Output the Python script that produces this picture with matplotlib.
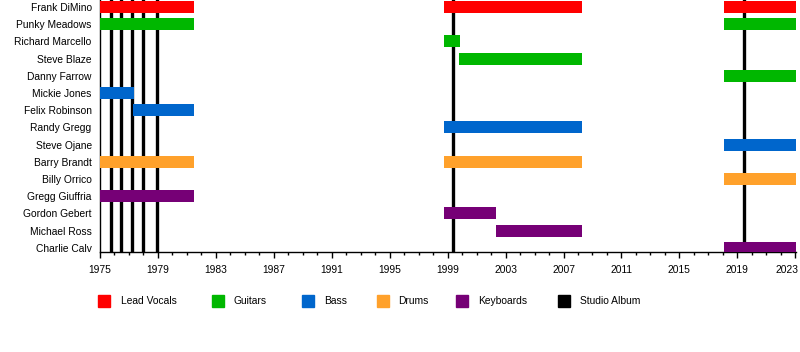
import matplotlib
matplotlib.use("Agg")
import matplotlib.pyplot as plt
from matplotlib.patches import Rectangle
from matplotlib.ticker import MultipleLocator, FixedLocator
import matplotlib.transforms as mtransforms

plt.rcParams['font.family'] = ['Liberation Sans', 'DejaVu Sans']

members = ["Frank DiMino", "Punky Meadows", "Richard Marcello", "Steve Blaze",
           "Danny Farrow", "Mickie Jones", "Felix Robinson", "Randy Gregg",
           "Steve Ojane", "Barry Brandt", "Billy Orrico", "Gregg Giuffria",
           "Gordon Gebert", "Michael Ross", "Charlie Calv"]

END = 2023.05
# (member, start, end, role)
stints = [
    ("Frank DiMino", 1975.0, 1981.5, "Lead Vocals"),
    ("Frank DiMino", 1998.75, 2008.3, "Lead Vocals"),
    ("Frank DiMino", 2018.1, END, "Lead Vocals"),
    ("Punky Meadows", 1975.0, 1981.5, "Guitars"),
    ("Punky Meadows", 2018.1, END, "Guitars"),
    ("Richard Marcello", 1998.75, 1999.85, "Guitars"),
    ("Steve Blaze", 1999.8, 2008.3, "Guitars"),
    ("Danny Farrow", 2018.1, END, "Guitars"),
    ("Mickie Jones", 1975.0, 1977.35, "Bass"),
    ("Felix Robinson", 1977.3, 1981.5, "Bass"),
    ("Randy Gregg", 1998.75, 2008.3, "Bass"),
    ("Steve Ojane", 2018.1, END, "Bass"),
    ("Barry Brandt", 1975.0, 1981.5, "Drums"),
    ("Barry Brandt", 1998.75, 2008.3, "Drums"),
    ("Billy Orrico", 2018.1, END, "Drums"),
    ("Gregg Giuffria", 1975.0, 1981.5, "Keyboards"),
    ("Gordon Gebert", 1998.75, 2002.35, "Keyboards"),
    ("Michael Ross", 2002.35, 2008.3, "Keyboards"),
    ("Charlie Calv", 2018.1, END, "Keyboards"),
]

albums = [1975.78, 1976.47, 1977.19, 1977.99, 1978.91, 1999.38, 2019.43]

year_ticks = list(range(1975, 2024, 4))

roles = ["Lead Vocals", "Guitars", "Bass", "Drums", "Keyboards", "Studio Album"]
role_colors = {"Lead Vocals": "#ff0000", "Guitars": "#00b700", "Bass": "#0066cc",
               "Drums": "#ffa12b", "Keyboards": "#760076", "Studio Album": "#000000"}

W, H = 800, 352
fig = plt.figure(figsize=(W / 100, H / 100), dpi=100)
ax = fig.add_axes([100 / W, (H - 252.3) / H, 696 / W, 252.3 / H])

ypos = {m: i for i, m in enumerate(members)}
for m, s, e, r in stints:
    ax.barh(ypos[m], e - s, left=s, height=0.7, color=role_colors[r], zorder=3)

for a in albums:
    ax.axvline(a, color="black", linewidth=2.4, zorder=2)

ax.set_xlim(1975, END)
ax.set_ylim(14.26, -0.407)
ax.set_yticks(range(len(members)))
ax.set_yticklabels(members, fontsize=7.4)
ax.tick_params(axis="y", length=0, pad=6)
ax.xaxis.set_major_locator(FixedLocator(year_ticks))
ax.xaxis.set_minor_locator(MultipleLocator(1))
ax.tick_params(axis="x", which="major", length=4, width=1, labelsize=7.4, pad=5)
ax.tick_params(axis="x", which="minor", length=2, width=1)
for sp in ["top", "right"]:
    ax.spines[sp].set_visible(False)
ax.spines["left"].set_linewidth(1)
ax.spines["bottom"].set_linewidth(1)

fig.canvas.draw()
last = ax.get_xticklabels()[-1]
last.set_transform(last.get_transform() + mtransforms.ScaledTranslation(-8 / 100, 0, fig.dpi_scale_trans))

# legend
sq_x = [98, 212, 302, 377, 456, 558]
lab_x = [121, 233, 324, 398, 478, 580]
for r, sx, lx in zip(roles, sq_x, lab_x):
    fig.patches.append(Rectangle((sx / W, (H - 307) / H), 12 / W, 12 / H,
                                 transform=fig.transFigure, color=role_colors[r]))
    fig.text(lx / W, (H - 301) / H, r, fontsize=7.4, va="center", ha="left")

fig.savefig("out.png", dpi=100)
